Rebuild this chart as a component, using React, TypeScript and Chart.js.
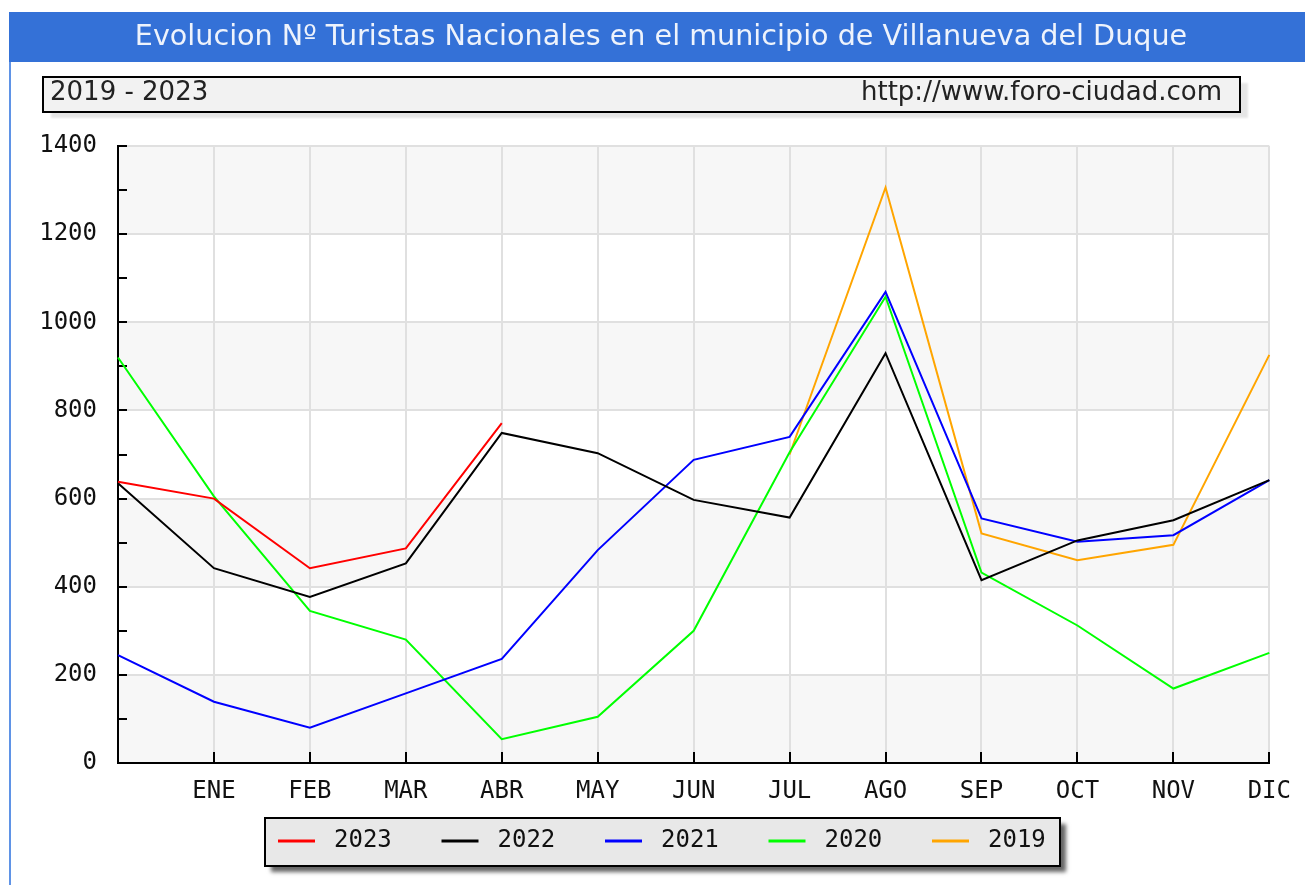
import React, { useEffect, useRef } from "react";
import { Chart, registerables } from "chart.js";

Chart.register(...registerables);

const TITLE = "Evolucion Nº Turistas Nacionales en el municipio de Villanueva del Duque";
const SUBTITLE_LEFT = "2019 - 2023";
const SUBTITLE_RIGHT = "http://www.foro-ciudad.com";

const MONTHS = ["", "ENE", "FEB", "MAR", "ABR", "MAY", "JUN", "JUL", "AGO", "SEP", "OCT", "NOV", "DIC"];

const YEARS = ["2023", "2022", "2021", "2020", "2019"];
const COLORS = ["#ff0000", "#000000", "#0000ff", "#00ff00", "#ffa500"];

const V2023 = [638, 600, 442, 487, 771, null, null, null, null, null, null, null, null];
const V2022 = [635, 442, 377, 453, 749, 703, 597, 557, 930, 415, 505, 551, 642];
const V2021 = [245, 139, 80, 158, 236, 483, 688, 740, 1069, 555, 502, 517, 642];
const V2020 = [920, 605, 345, 280, 54, 105, 300, 705, 1058, 432, 312, 169, 250];
const V2019 = [null, null, null, null, null, null, null, 700, 1306, 521, 460, 495, 926];

const SERIES = [V2023, V2022, V2021, V2020, V2019];

const Y_MIN = 0;
const Y_MAX = 1400;
const Y_STEP = 200;
const Y_MINOR = 100;

const MONO = "'DejaVu Sans Mono', monospace";
const SANS = "'DejaVu Sans', Verdana, sans-serif";

const decorPlugin = {
  id: "decor",
  beforeDraw(chart: any) {
    const ctx = chart.ctx;
    const { left, right } = chart.chartArea;
    const y = chart.scales.y;
    ctx.save();
    ctx.fillStyle = "#ffffff";
    ctx.fillRect(0, 0, chart.width, chart.height);
    // alternating bands
    const ticks = y.ticks;
    ctx.fillStyle = "#f7f7f7";
    for (let i = 0; i < ticks.length - 1; i += 2) {
      const y0 = y.getPixelForValue(ticks[i].value);
      const y1 = y.getPixelForValue(ticks[i + 1].value);
      ctx.fillRect(left, y1, right - left, y0 - y1);
    }
    // title bar
    ctx.fillStyle = "#3471d7";
    ctx.fillRect(9, 12, chart.width - 9, 50);
    ctx.fillStyle = "#5f93e6";
    ctx.fillRect(9, 62, 2, chart.height - 62);
    // title text fitted
    let size = 100;
    ctx.font = `${size}px ${SANS}`;
    const w = ctx.measureText(TITLE).width;
    size = (100 * 1053) / w;
    ctx.font = `${size}px ${SANS}`;
    ctx.fillStyle = "#eef3fc";
    ctx.textAlign = "center";
    ctx.textBaseline = "middle";
    ctx.fillText(TITLE, 661, 38);

    // subtitle box
    ctx.save();
    ctx.shadowColor = "rgba(0,0,0,0.10)";
    ctx.shadowBlur = 2;
    ctx.shadowOffsetX = 8;
    ctx.shadowOffsetY = 6;
    ctx.fillStyle = "#f2f2f2";
    ctx.fillRect(43, 77, 1197, 35);
    ctx.restore();
    ctx.strokeStyle = "#000";
    ctx.lineWidth = 2;
    ctx.strokeRect(43, 77, 1197, 35);
    ctx.fillStyle = "#222";
    ctx.font = `26px ${SANS}`;
    ctx.textBaseline = "middle";
    ctx.textAlign = "left";
    ctx.fillText(SUBTITLE_LEFT, 50, 93);
    ctx.textAlign = "right";
    ctx.fillText(SUBTITLE_RIGHT, 1222, 93);
    ctx.restore();
  },
  beforeDatasetsDraw(chart: any) {
    const ctx = chart.ctx;
    const { left, bottom } = chart.chartArea;
    const y = chart.scales.y;
    const x = chart.scales.x;
    ctx.save();
    ctx.strokeStyle = "#000";
    ctx.lineWidth = 2;
    ctx.beginPath();
    for (let v = Y_MIN; v <= Y_MAX; v += Y_MINOR) {
      const py = Math.round(y.getPixelForValue(v));
      ctx.moveTo(left, py);
      ctx.lineTo(left + 9, py);
    }
    for (let i = 1; i < MONTHS.length; i++) {
      const px = Math.round(x.getPixelForValue(i));
      ctx.moveTo(px, bottom);
      ctx.lineTo(px, bottom - 11);
    }
    ctx.stroke();
    ctx.restore();
  },
  afterDraw(chart: any) {
    const ctx = chart.ctx;
    const bx = 265, by = 818, bw = 795, bh = 48;
    ctx.save();
    ctx.shadowColor = "rgba(0,0,0,0.6)";
    ctx.shadowBlur = 4;
    ctx.shadowOffsetX = 6;
    ctx.shadowOffsetY = 6;
    ctx.fillStyle = "#e8e8e8";
    ctx.fillRect(bx, by, bw, bh);
    ctx.restore();
    ctx.save();
    ctx.strokeStyle = "#000";
    ctx.lineWidth = 2;
    ctx.strokeRect(bx, by, bw, bh);
    chart.data.datasets.forEach((ds: any, i: number) => {
      const x0 = 278 + i * 163.5;
      const yc = 841;
      ctx.strokeStyle = ds.borderColor;
      ctx.lineWidth = 3;
      ctx.beginPath();
      ctx.moveTo(x0, yc);
      ctx.lineTo(x0 + 37, yc);
      ctx.stroke();
      ctx.fillStyle = "#111";
      ctx.font = `24px ${MONO}`;
      ctx.textAlign = "left";
      ctx.textBaseline = "middle";
      ctx.fillText(ds.label, x0 + 56, yc);
    });
    ctx.restore();
  },
};

export default function App() {
  const ref = useRef<HTMLCanvasElement | null>(null);
  useEffect(() => {
    if (!ref.current) return;
    const chart = new Chart(ref.current, {
      type: "line",
      data: {
        labels: MONTHS,
        datasets: YEARS.map((yr, i) => ({
          label: yr,
          data: SERIES[i],
          borderColor: COLORS[i],
          backgroundColor: COLORS[i],
          borderWidth: 2,
          pointRadius: 0,
          tension: 0,
          spanGaps: false,
          fill: false,
        })),
      },
      options: {
        animation: false,
        responsive: false,
        maintainAspectRatio: false,
        events: [],
        layout: { padding: { left: 0, right: 35, top: 146, bottom: 0 } },
        plugins: {
          legend: { display: false },
          tooltip: { enabled: false },
          title: { display: false },
        },
        scales: {
          x: {
            type: "category",
            offset: false,
            grid: { color: "#e0e0e0", lineWidth: 2, drawTicks: false },
            border: { display: true, color: "#000", width: 2 },
            ticks: {
              color: "#111",
              font: { family: MONO, size: 24 },
              padding: 14,
              maxRotation: 0,
              autoSkip: false,
            },
            afterFit(scale: any) {
              scale.height = 122;
            },
          },
          y: {
            min: Y_MIN,
            max: Y_MAX,
            grid: { color: "#e0e0e0", lineWidth: 2, drawTicks: false },
            border: { display: true, color: "#000", width: 2 },
            ticks: {
              stepSize: Y_STEP,
              color: "#111",
              font: { family: MONO, size: 24 },
              padding: 21,
              callback: (v: any) => String(v),
            },
            afterFit(scale: any) {
              scale.width = 118;
            },
          },
        },
      },
      plugins: [decorPlugin],
    } as any);
    return () => chart.destroy();
  }, []);
  return (
    <div style={{ position: "fixed", left: 0, top: 0, width: 1305, height: 885, background: "#fff" }}>
      <canvas ref={ref} width={1305} height={885} style={{ display: "block", width: 1305, height: 885 }} />
    </div>
  );
}
